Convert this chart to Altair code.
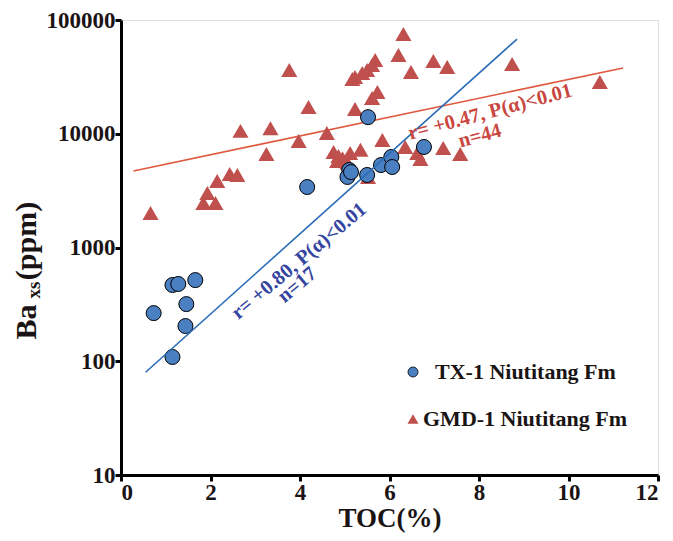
import altair as alt
import pandas as pd

# ---------------- data ----------------
series = ["TX-1 Niutitang Fm", "GMD-1 Niutitang Fm"]

tx_toc = [0.73, 1.15, 1.28, 1.66, 1.46, 1.44, 1.15, 4.16, 5.10, 5.06, 5.50,
          5.81, 6.04, 6.06, 6.77, 5.52, 5.14]
tx_ba = [265, 468, 478, 517, 318, 204, 109, 3400, 4800, 4170, 4340,
         5310, 6250, 5100, 7650, 14000, 4600]

gmd_toc = [0.66, 1.84, 2.11, 1.93, 2.15, 2.43, 2.60, 2.67, 3.25, 3.34, 3.76,
           3.97, 4.19, 4.60, 4.75, 4.86, 4.83, 5.06, 5.12, 5.35, 5.17, 5.23,
           5.23, 5.39, 5.50, 5.61, 5.68, 5.61, 5.73, 5.52, 5.84, 6.20, 6.31,
           6.48, 6.35, 6.62, 6.69, 6.98, 7.29, 7.20, 7.58, 8.74, 10.70, 4.95]
gmd_ba = [2010, 2460, 2460, 3010, 3840, 4430, 4330, 10600, 6640, 11200, 36300,
          8640, 17200, 10150, 6910, 6370, 5760, 5600, 6770, 7230, 30300, 31600,
          16500, 34200, 36300, 40200, 44500, 20600, 23300, 4170, 8810, 49200, 75300,
          34900, 7650, 6770, 6000, 43600, 38600, 7500, 6640, 41000, 28500, 6100]

fit_tx_toc = [0.55, 8.85]
fit_tx_ba = [80, 68000]
fit_gmd_toc = [0.28, 11.22]
fit_gmd_ba = [4710, 37900]

tx_note = ["r= +0.80, P(\u03b1)<0.01", "n=17"]
tx_note_toc = [3.98, 3.94]
tx_note_ba = [760, 468]
gmd_note = ["r= +0.47, P(\u03b1)<0.01", "n=44"]
gmd_note_toc = [8.25, 8.02]
gmd_note_ba = [15500, 9550]

x_ticks = [0, 2, 4, 6, 8, 10, 12]
y_ticks = [10, 100, 1000, 10000, 100000]

# ---------------- styling ----------------
FONT = "Liberation Serif"
BLUE_FILL = "#4a7fc1"
RED_FILL = "#c0504d"
BLUE_LINE = "#2b6cb8"
RED_LINE = "#e0583e"
BLUE_TEXT = "#3446a0"
RED_TEXT = "#c9473f"
INK = "#1a1414"

pts = pd.DataFrame({
    "toc": tx_toc + gmd_toc,
    "ba": tx_ba + gmd_ba,
    "series": [series[0]] * len(tx_toc) + [series[1]] * len(gmd_toc),
})

xscale = alt.Scale(domain=[0, 12], nice=False, zero=False)
yscale = alt.Scale(type="log", domain=[10, 100000], nice=False)
color_scale = alt.Scale(domain=series, range=[BLUE_FILL, RED_FILL])
shape_scale = alt.Scale(domain=series, range=["circle", "triangle-up"])

axis_common = dict(
    grid=False, domainColor="black", domainWidth=3, tickColor="black",
    tickWidth=3, tickSize=6, labelFont=FONT, labelFontSize=23,
    labelFontWeight="bold", labelColor=INK, titleFont=FONT,
    titleFontWeight="bold", titleColor=INK,
)

x_enc = alt.X("toc:Q", scale=xscale,
              axis=alt.Axis(values=x_ticks, format="d", title="TOC(%)",
                            titleFontSize=27, titleY=51, titleBaseline="alphabetic",
                            labelPadding=0, **axis_common))
y_enc = alt.Y("ba:Q", scale=yscale,
              axis=alt.Axis(values=y_ticks, format="d", title=None,
                            labelPadding=0, **axis_common))

color_enc = alt.Color("series:N", scale=color_scale, legend=None)
shape_enc = alt.Shape("series:N", scale=shape_scale, legend=None)

base = alt.Chart(pts)

tri = base.transform_filter(alt.datum.series == series[1]).mark_point(
    filled=True, size=260, opacity=1, strokeWidth=0
).encode(x=x_enc, y=y_enc, color=color_enc, shape=shape_enc)

circ = base.transform_filter(alt.datum.series == series[0]).mark_point(
    filled=True, size=225, opacity=1, stroke="black", strokeWidth=1
).encode(x=x_enc, y=y_enc, color=color_enc, shape=shape_enc)

red_fit = alt.Chart(pd.DataFrame({"toc": fit_gmd_toc, "ba": fit_gmd_ba})).mark_line(
    color=RED_LINE, strokeWidth=1.6
).encode(x=alt.X("toc:Q", scale=xscale), y=alt.Y("ba:Q", scale=yscale))

blue_fit = alt.Chart(pd.DataFrame({"toc": fit_tx_toc, "ba": fit_tx_ba})).mark_line(
    color=BLUE_LINE, strokeWidth=1.6
).encode(x=alt.X("toc:Q", scale=xscale), y=alt.Y("ba:Q", scale=yscale))

blue_txt = alt.Chart(pd.DataFrame({"toc": tx_note_toc, "ba": tx_note_ba, "t": tx_note})).mark_text(
    angle=320, font=FONT, fontSize=20.5, fontWeight="bold", color=BLUE_TEXT,
    align="center", baseline="middle"
).encode(x=alt.X("toc:Q", scale=xscale), y=alt.Y("ba:Q", scale=yscale), text="t:N")

red_txt = alt.Chart(pd.DataFrame({"toc": gmd_note_toc, "ba": gmd_note_ba, "t": gmd_note})).mark_text(
    angle=345, font=FONT, fontSize=20.5, fontWeight="bold", color=RED_TEXT,
    align="center", baseline="middle"
).encode(x=alt.X("toc:Q", scale=xscale), y=alt.Y("ba:Q", scale=yscale), text="t:N")

# y-axis title with subscript, built from text pieces
title_df = pd.DataFrame({"t": ["Ba", "xs", "(ppm)"]})
ba_t = alt.Chart(title_df).transform_filter(alt.datum.t == "Ba").mark_text(
    angle=270, font=FONT, fontSize=30, fontWeight="bold", color=INK,
    align="center", baseline="middle"
).encode(text="t:N", x=alt.value(-94), y=alt.value(302))
xs_t = alt.Chart(title_df).transform_filter(alt.datum.t == "xs").mark_text(
    angle=270, font=FONT, fontSize=19, fontWeight="bold", color=INK,
    align="center", baseline="middle"
).encode(text="t:N", x=alt.value(-87), y=alt.value(270))
ppm_t = alt.Chart(title_df).transform_filter(alt.datum.t == "(ppm)").mark_text(
    angle=270, font=FONT, fontSize=30, fontWeight="bold", color=INK,
    align="center", baseline="middle"
).encode(text="t:N", x=alt.value(-94), y=alt.value(221))

# legend drawn by hand (symbols + labels)
leg_df = pd.DataFrame({"series": series})
leg_circ = alt.Chart(leg_df).transform_filter(alt.datum.series == series[0]).mark_point(
    filled=True, shape="circle", size=100, opacity=1, fill=BLUE_FILL,
    stroke="black", strokeWidth=0.8
).encode(x=alt.value(292), y=alt.value(352))
leg_tri = alt.Chart(leg_df).transform_filter(alt.datum.series == series[1]).mark_point(
    filled=True, shape="triangle-up", size=121, opacity=1, fill=RED_FILL, strokeWidth=0
).encode(x=alt.value(292), y=alt.value(399))
leg_txt1 = alt.Chart(leg_df).transform_filter(alt.datum.series == series[0]).mark_text(
    font=FONT, fontSize=22, fontWeight="bold", color=INK, align="left", baseline="middle"
).encode(text="series:N", x=alt.value(314), y=alt.value(352))
leg_txt2 = alt.Chart(leg_df).transform_filter(alt.datum.series == series[1]).mark_text(
    font=FONT, fontSize=22, fontWeight="bold", color=INK, align="left", baseline="middle"
).encode(text="series:N", x=alt.value(302), y=alt.value(399))

chart = alt.layer(
    red_fit, tri, circ, blue_fit, blue_txt, red_txt, ba_t, xs_t, ppm_t,
    leg_circ, leg_tri, leg_txt1, leg_txt2
).properties(
    width=537, height=455,
    autosize=alt.AutoSizeParams(type="none"),
    padding={"left": 113, "top": 12, "right": 5, "bottom": 58},
).configure_view(
    stroke="black", strokeWidth=3
).configure(background="white")

chart.save("out.html", embed_options={"renderer": "svg", "actions": False})
